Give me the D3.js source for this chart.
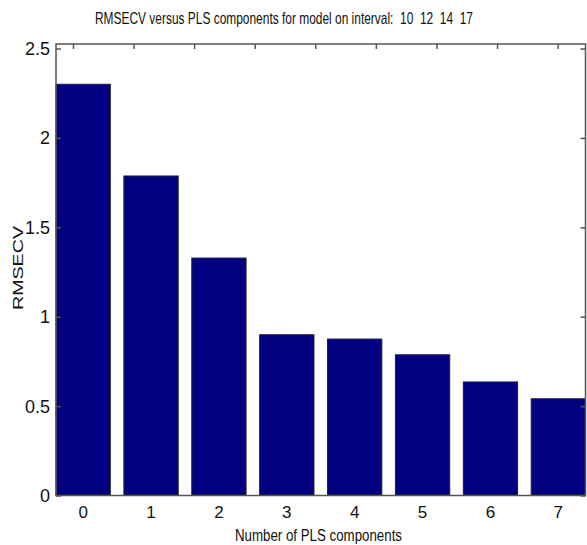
<!DOCTYPE html>
<html><head><meta charset="utf-8">
<script src="https://cdn.jsdelivr.net/npm/d3@7"></script>
<style>body{margin:0;background:#fff}svg{display:block}text{white-space:pre}</style>
</head><body>
<svg id="c" width="587" height="545"></svg>
<script>
const categories = [0, 1, 2, 3, 4, 5, 6, 7];
const rmsecv = [2.30, 1.787, 1.328, 0.899, 0.875, 0.787, 0.635, 0.541];
const yTicks = [0, 0.5, 1, 1.5, 2, 2.5];
const yTickLabels = ["0", "0.5", "1", "1.5", "2", "2.5"];
const topTicks = [1, 2, 3, 4, 5, 6, 7, 8, 9];
const titleText = "RMSECV versus PLS components for model on interval:  10  12  14  17";
const xLabel = "Number of PLS components";
const yLabel = "RMSECV";

const FONT = "'Liberation Sans Narrow','Arial Narrow','Liberation Sans',sans-serif";
const L = 56, R = 585.5, T = 44, B = 495.5;
const svg = d3.select("#c");

const x = d3.scaleLinear().domain([-0.4, 7.4]).range([L, R]);
const y = d3.scaleLinear().domain([0, 2.5]).range([B, 48.5]);
const xTop = d3.scaleLinear().domain([0.72, 9.46]).range([L, R]);
const barW = x(0.8) - x(0);

// bars
svg.append("g").selectAll("rect").data(categories).join("rect")
  .attr("x", (d) => x(d - 0.4))
  .attr("width", barW)
  .attr("y", (d, i) => y(rmsecv[i]))
  .attr("height", (d, i) => y(0) - y(rmsecv[i]))
  .attr("fill", "#000080")
  .attr("stroke", "#222")
  .attr("stroke-width", 1);

const axisColor = "#555";
// frame
svg.append("rect").attr("x", L).attr("y", T).attr("width", R - L).attr("height", B - T)
  .attr("fill", "none").attr("stroke", axisColor).attr("stroke-width", 1.5);

// left axis
const yAxisL = d3.axisRight(y).tickValues(yTicks).tickSize(5).tickFormat("");
const gl = svg.append("g").attr("transform", `translate(${L},0)`).call(yAxisL);
gl.select(".domain").remove();
gl.selectAll("line").attr("stroke", axisColor).attr("stroke-width", 1.5);
// right axis
const yAxisR = d3.axisLeft(y).tickValues(yTicks).tickSize(5).tickFormat("");
const gr = svg.append("g").attr("transform", `translate(${R},0)`).call(yAxisR);
gr.select(".domain").remove();
gr.selectAll("line").attr("stroke", axisColor).attr("stroke-width", 1.5);
// top ticks
const xAxisT = d3.axisBottom(xTop).tickValues(topTicks).tickSize(5).tickFormat("");
const gt = svg.append("g").attr("transform", `translate(0,${T})`).call(xAxisT);
gt.select(".domain").remove();
gt.selectAll("line").attr("stroke", axisColor).attr("stroke-width", 1.5);

// y tick labels
svg.append("g").selectAll("text").data(yTicks).join("text")
  .attr("x", L - 6).attr("y", (d) => y(d)).attr("dy", "0.36em")
  .attr("text-anchor", "end").attr("font-family", FONT).attr("font-size", 18)
  .attr("fill", "#111").text((d, i) => yTickLabels[i]);

// x tick labels
svg.append("g").selectAll("text").data(categories).join("text")
  .attr("x", (d) => x(d)).attr("y", 518)
  .attr("text-anchor", "middle").attr("font-family", FONT).attr("font-size", 17)
  .attr("fill", "#111").text((d) => d);

// title
svg.append("text").attr("x", 95).attr("y", 24)
  .attr("font-family", FONT).attr("font-size", 17).attr("fill", "#111")
  .attr("textLength", 378).attr("lengthAdjust", "spacingAndGlyphs")
  .attr("xml:space", "preserve")
  .text(titleText);

// x label
svg.append("text").attr("x", 235).attr("y", 541)
  .attr("font-family", FONT).attr("font-size", 16).attr("fill", "#111")
  .attr("textLength", 167).attr("lengthAdjust", "spacingAndGlyphs")
  .text(xLabel);

// y label
svg.append("text").attr("transform", "translate(23,268) rotate(-90)")
  .attr("text-anchor", "middle")
  .attr("font-family", "'Liberation Sans',Arial,sans-serif").attr("font-size", 14).attr("fill", "#111")
  .attr("textLength", 84).attr("lengthAdjust", "spacingAndGlyphs")
  .text(yLabel);
</script>
</body></html>
